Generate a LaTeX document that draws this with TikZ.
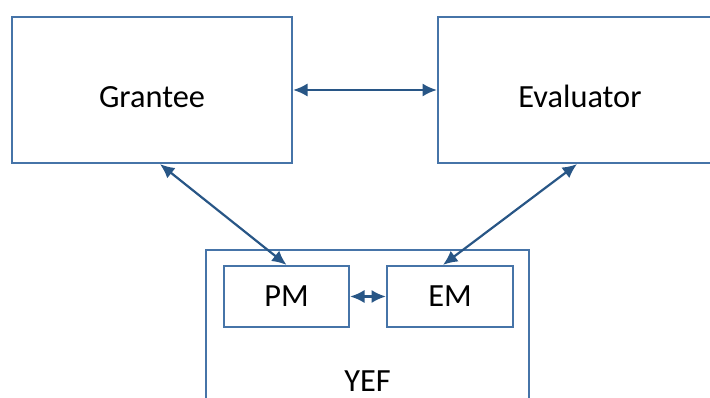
\documentclass[tikz,border=0pt]{standalone}
\usepackage{fontspec}
\setmainfont{Carlito}
\usetikzlibrary{arrows.meta,calc}
\definecolor{boxblue}{RGB}{70,116,168}
\definecolor{arrowblue}{RGB}{40,86,134}
\begin{document}
\begin{tikzpicture}[x=0.025cm,y=-0.025cm]
      \useasboundingbox (0,0) rectangle (710,398);
      \clip (0,0) rectangle (710,398);
      \begin{scope}[every node/.style={rectangle,draw=boxblue,line width=0.055cm,
          inner sep=0pt,font=\fontsize{23pt}{27pt}\selectfont}]
        \node[minimum width=280*0.025cm,minimum height=146*0.025cm,
          text height=0.87cm,text depth=0pt] (grantee) at (152,90) {Grantee};
        \node[minimum width=284*0.025cm,minimum height=146*0.025cm,
          text height=0.87cm,text depth=0pt] (evaluator) at (580,90) {Evaluator};
        \node[minimum width=323*0.025cm,minimum height=262*0.025cm] (yef) at (367.5,381) {YEF};
        \node[minimum width=125*0.025cm,minimum height=61*0.025cm] (pm) at (286.5,296.5) {PM};
        \node[minimum width=126*0.025cm,minimum height=61*0.025cm] (em) at (450,296.5) {EM};
      \end{scope}
      \begin{scope}[every edge/.style={draw=arrowblue,line width=0.055cm,
          {Latex[length=0.36cm,width=0.33cm]}-{Latex[length=0.36cm,width=0.33cm]}}]
        \path (grantee.east) edge (evaluator.west);
        \path ($(grantee.south)+(8,0)$) edge (pm.north);
        \path ($(evaluator.south)+(-3,0)$) edge ($(em.north)+(-7,0)$);
        \path (pm.east) edge (em.west);
      \end{scope}
    \end{tikzpicture}
\end{document}
